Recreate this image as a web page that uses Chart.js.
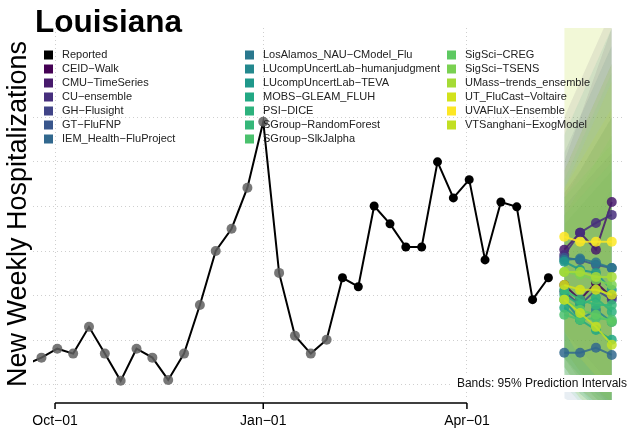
<!DOCTYPE html>
<html><head><meta charset="utf-8">
<script src="https://cdn.jsdelivr.net/npm/chart.js@4.4.0/dist/chart.umd.min.js"></script>
<style>html,body{margin:0;padding:0;background:#fff;}#wrap{width:629px;height:433px;position:relative;}</style>
</head><body><div id="wrap"><canvas id="c" width="629" height="433"></canvas></div>
<script>
const titleText = "Louisiana";
const yAxisTitle = "New Weekly Hospitalizations";
const bandNote = "Bands: 95% Prediction Intervals";
const xTickDates = ["2022-10-01", "2023-01-01", "2023-04-01"];
const xTickLabels = ["Oct\u221201", "Jan\u221201", "Apr\u221201"];
const yGridValues = [0, 100, 200, 300, 400, 500, 600];

const reportedDates = ["2022-09-18","2022-09-25","2022-10-02","2022-10-09","2022-10-16","2022-10-23","2022-10-30",
  "2022-11-06","2022-11-13","2022-11-20","2022-11-27","2022-12-04","2022-12-11","2022-12-18","2022-12-25",
  "2023-01-01","2023-01-08","2023-01-15","2023-01-22","2023-01-29","2023-02-05","2023-02-12","2023-02-19",
  "2023-02-26","2023-03-05","2023-03-12","2023-03-19","2023-03-26","2023-04-02","2023-04-09","2023-04-16",
  "2023-04-23","2023-04-30","2023-05-07"];
const reportedValues = [45, 61, 81, 70, 130, 70, 9, 81, 61, 11, 70, 179, 300, 350, 442, 590, 251, 110, 70, 101,
  240, 220, 401, 361, 309, 309, 500, 419, 460, 280, 410, 399, 191, 240];
const olderPointCount = 20;

const forecastDates = ["2023-05-14", "2023-05-21", "2023-05-28", "2023-06-04"];
const modelNames = ["CEID\u2212Walk","CMU\u2212TimeSeries","CU\u2212ensemble","GH\u2212Flusight","GT\u2212FluFNP",
  "IEM_Health\u2212FluProject","LosAlamos_NAU\u2212CModel_Flu","LUcompUncertLab\u2212humanjudgment",
  "LUcompUncertLab\u2212TEVA","MOBS\u2212GLEAM_FLUH","PSI\u2212DICE","SGroup\u2212RandomForest","SGroup\u2212SlkJalpha",
  "SigSci\u2212CREG","SigSci\u2212TSENS","UMass\u2212trends_ensemble","UT_FluCast\u2212Voltaire","UVAFluX\u2212Ensemble",
  "VTSanghani\u2212ExogModel"];
const modelColors = ["#440154","#481a6c","#472f7d","#414487","#39568c","#31688e","#2a788e","#23888e","#1f988b",
  "#22a884","#2db27d","#35b779","#4ac16d","#5ec962","#7ad151","#a5db36","#d2e21b","#fde725","#c2df23"];
const modelMedians = [
  [224,191,229,197],[303,341,303,410],[291,341,363,381],[209,179,213,191],[285,280,269,262],
  [72,72,83,67],[280,283,274,262],[191,146,168,141],[276,258,251,213],[173,146,123,101],
  [202,179,195,164],[213,191,179,179],[157,146,150,146],[191,168,157,141],[253,247,235,224],
  [253,253,242,242],[224,213,213,202],[332,321,321,321],[191,161,130,90]];
const modelLower = [
  [40,-10,-40,-60],[120,80,40,0],[80,30,-10,-50],[60,20,-20,-50],[60,10,-30,-60],
  [-30,-50,-60,-80],[80,30,-10,-40],[30,-20,-50,-80],[40,-10,-50,-80],[20,-20,-50,-80],
  [40,0,-30,-60],[60,20,-10,-40],[0,-40,-60,-80],[10,-30,-60,-80],[60,10,-30,-60],
  [80,30,-10,-40],[40,-10,-40,-70],[120,60,20,-20],[20,-30,-60,-90]];
const modelUpper = [
  [430,480,540,600],[500,600,700,800],[600,680,760,840],[400,440,480,520],[520,600,680,760],
  [260,320,380,440],[480,560,640,720],[380,420,460,500],[560,640,720,800],[360,400,440,480],
  [420,480,540,600],[420,460,500,540],[380,440,500,560],[460,540,620,700],[800,880,960,1040],
  [440,520,600,680],[480,560,640,720],[820,900,1000,1100],[440,500,560,620]];

const origin = Date.UTC(2022, 9, 1);
const dayOf = s => (Date.parse(s + "T00:00:00Z") - origin) / 86400000;
const FONT = "'Liberation Sans', Arial, sans-serif";
function rgba(hex, a) {
  const n = parseInt(hex.slice(1), 16);
  return `rgba(${(n >> 16) & 255},${(n >> 8) & 255},${n & 255},${a})`;
}

const datasets = [];
datasets.push({
  label: "Reported",
  data: reportedDates.map((d, i) => ({x: dayOf(d), y: reportedValues[i]})),
  borderColor: "#000", borderWidth: 2, tension: 0,
  pointRadius: c => c.dataIndex < olderPointCount ? 5 : 4.5,
  pointBackgroundColor: c => c.dataIndex < olderPointCount ? "rgba(95,95,95,0.85)" : "#000",
  pointBorderWidth: 0, order: 0
});
for (let m = modelNames.length - 1; m >= 0; m--) {
  datasets.push({
    label: modelNames[m],
    data: forecastDates.map((d, i) => ({x: dayOf(d), y: modelMedians[m][i]})),
    borderColor: rgba(modelColors[m], 0.85), borderWidth: 2,
    pointRadius: 5, pointBackgroundColor: rgba(modelColors[m], 0.85), pointBorderWidth: 0, order: 1
  });
}
for (let m = modelNames.length - 1; m >= 0; m--) {
  datasets.push({
    label: modelNames[m] + " upper",
    data: forecastDates.map((d, i) => ({x: dayOf(d), y: modelUpper[m][i]})),
    borderWidth: 0, pointRadius: 0, fill: false, order: 5
  });
  datasets.push({
    label: modelNames[m] + " lower",
    data: forecastDates.map((d, i) => ({x: dayOf(d), y: modelLower[m][i]})),
    borderWidth: 0, pointRadius: 0, fill: "-1", backgroundColor: rgba(modelColors[m], 0.11), order: 5
  });
}

const decor = {
  id: "decor",
  afterDraw(chart) {
    const ctx = chart.ctx, xs = chart.scales.x;
    ctx.save();
    ctx.fillStyle = "#000";
    ctx.font = "bold 31.5px " + FONT;
    ctx.textBaseline = "alphabetic"; ctx.textAlign = "left";
    ctx.fillText(titleText, 35, 32);
    const names = ["Reported"].concat(modelNames);
    const cols = ["#000000"].concat(modelColors);
    const colX = [44, 245, 447], rowY0 = 55, rowH = 14;
    ctx.font = "11px " + FONT; ctx.textBaseline = "middle";
    names.forEach((n, i) => {
      const c = Math.floor(i / 7), r = i % 7;
      const y = rowY0 + r * rowH;
      ctx.fillStyle = cols[i];
      ctx.fillRect(colX[c], y - 4.5, 9, 9);
      ctx.fillStyle = "#222";
      ctx.fillText(n, colX[c] + 18, y);
    });
    ctx.font = "12px " + FONT;
    const w = ctx.measureText(bandNote).width;
    ctx.fillStyle = "#fff";
    ctx.fillRect(627 - w - 4, 375, w + 6, 17);
    ctx.fillStyle = "#111"; ctx.textAlign = "right";
    ctx.fillText(bandNote, 627, 384);
    const px = xTickDates.map(d => xs.getPixelForValue(dayOf(d)));
    const ay = 403;
    ctx.strokeStyle = "#000"; ctx.lineWidth = 1.5;
    ctx.beginPath();
    ctx.moveTo(px[0], ay); ctx.lineTo(px[px.length - 1], ay);
    px.forEach(p => { ctx.moveTo(p, ay); ctx.lineTo(p, ay + 6); });
    ctx.stroke();
    ctx.restore();
  }
};

new Chart(document.getElementById("c"), {
  type: "line",
  data: {datasets},
  options: {
    responsive: false, animation: false, devicePixelRatio: 1,
    layout: {padding: {top: 28, right: 2, left: 0, bottom: 0}},
    plugins: {legend: {display: false}, tooltip: {enabled: false}, title: {display: false}},
    scales: {
      x: {
        type: "linear", min: -9.74, max: 251.4,
        afterBuildTicks: s => { s.ticks = xTickDates.map(d => ({value: dayOf(d)})); },
        afterFit: s => { s.height = 33; },
        ticks: {autoSkip: false, maxRotation: 0, padding: 13, color: "#000",
          font: {size: 14, family: FONT}, callback: (v, i) => xTickLabels[i]},
        grid: {color: "#cfcfcf", lineWidth: 1, drawTicks: false},
        border: {display: false, dash: [1, 3]}
      },
      y: {
        type: "linear", min: -34, max: 800,
        afterBuildTicks: s => { s.ticks = yGridValues.map(v => ({value: v})); },
        afterFit: s => { s.width = 33; },
        ticks: {display: false},
        grid: {color: "#cfcfcf", lineWidth: 1, drawTicks: false},
        border: {display: false, dash: [1, 3]},
        title: {display: true, text: yAxisTitle, color: "#000", font: {size: 27, family: FONT}, padding: {top: 2, bottom: 0}}
      }
    }
  },
  plugins: [decor]
});
</script></body></html>
